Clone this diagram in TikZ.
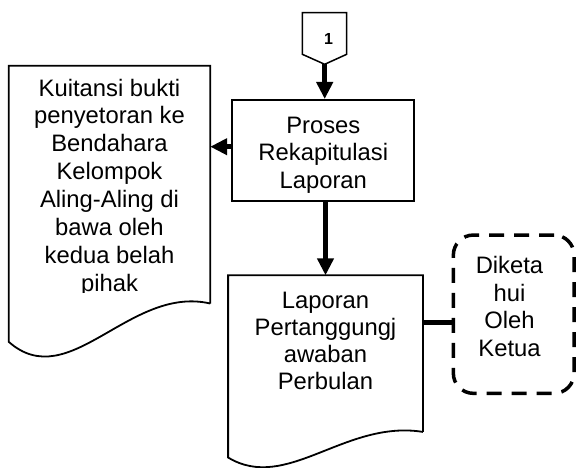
\documentclass[tikz,border=0pt]{standalone}
\usepackage{fontspec}
\setmainfont{Liberation Sans}
\usetikzlibrary{arrows.meta,calc}
\begin{document}
\begin{tikzpicture}[x=1pt,y=-1pt,
  txt/.style={align=center, inner sep=0pt, anchor=base},
  big/.style={font=\fontsize{23.8pt}{#1}\selectfont},
  arr/.style={line width=5pt, -{Triangle[length=17pt,width=16pt]}},
  link/.style={line width=5pt},
  procbox/.style={draw, line width=2pt, rectangle, inner sep=0pt},
  docarea/.style={rectangle, inner sep=0pt},
  docline/.style={line width=1.8pt, line join=miter},
  dashbox/.style={draw, rectangle, rounded corners=20pt, dash pattern=on 15pt off 10pt, line width=3.5pt, inner sep=0pt}]
\useasboundingbox (0,0) rectangle (576,468);

% off-page connector
\coordinate (c1tip) at (324.7,64.3);
\draw[line width=1.5pt] (302.3,12.7) -- (346.7,12.7) -- (346.7,54.3) -- (c1tip) -- (302.3,54.3) -- cycle;
\node[txt, font=\bfseries\fontsize{16pt}{18pt}\selectfont] (c1) at (328.6,45) {1};

% process
\node[procbox, minimum width=182pt, minimum height=101pt] (proc) at (323.3,150.5) {};
\node[txt, big=27.5pt] (proct) at (323.3,188.3) {Proses\\Rekapitulasi\\Laporan};
\draw[arr] (c1tip) -- (c1tip |- proc.north);

% Kuitansi document
\node[docarea, minimum width=201pt, minimum height=237.3pt] (kui) at (109.5,184.65) {};
\draw[docline] (kui.south east) -- (kui.north east) -- (kui.north west) -- ($(kui.south west)+(0,38.4)$) .. controls (69.3,395.1) and (129.6,284.9) .. (kui.south east);
\begin{scope}
\clip (9,66) rectangle (210,292.6);
\node[txt, big=27.9pt] (kuit) at (109.5,291.3) {Kuitansi bukti\\penyetoran ke\\Bendahara\\Kelompok\\Aling-Aling di\\bawa oleh\\kedua belah\\pihak};
\end{scope}
\draw[arr] ([yshift=3.8pt]proc.west) -- ([yshift=3.8pt]proc.west -| kui.east);

% Laporan document
\node[docarea, minimum width=194.4pt, minimum height=156.2pt] (lap) at (325.5,353.6) {};
\draw[docline] (lap.south east) -- (lap.north east) -- (lap.north west) -- ($(lap.south west)+(0,25.6)$) .. controls (286.6,492.9) and (345,419.4) .. (lap.south east);
\node[txt, big=27.2pt] (lapt) at (325.5,389.9) {Laporan\\Pertanggungj\\awaban\\Perbulan};
\draw[arr] (proc.south -| lap.north) -- (lap.north);

% dashed annotation
\node[dashbox, minimum width=120.7pt, minimum height=158.3pt] (dik) at (513.7,314.2) {};
\node[txt, big=27.8pt] (dikt) at (509.5,356.7) {Diketa\\hui\\Oleh\\Ketua};
\draw[link] ([yshift=-8.1pt]dik.west) -- ([yshift=-8.1pt]dik.west -| lap.east);
\end{tikzpicture}
\end{document}
